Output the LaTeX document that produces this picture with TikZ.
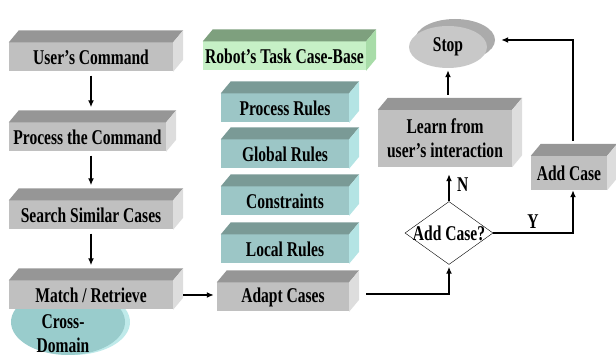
\documentclass[tikz,border=0pt]{standalone}
\usepackage{fontspec}
\setmainfont{Liberation Serif}[FakeStretch=0.74]
\usetikzlibrary{shapes.geometric,arrows.meta}

\definecolor{grayFront}{HTML}{C0C0C0}
\definecolor{grayTop}{HTML}{969696}
\definecolor{graySide}{HTML}{DDDDDD}
\definecolor{tealFront}{HTML}{9CC6C6}
\definecolor{tealTop}{HTML}{7A9A96}
\definecolor{tealSide}{HTML}{B4E4E4}
\definecolor{greenFront}{HTML}{C6F0C6}
\definecolor{greenTop}{HTML}{7EA07E}
\definecolor{greenSide}{HTML}{A8DCA8}
\definecolor{discFront}{HTML}{99CCCC}
\definecolor{discSide}{HTML}{BFEAEA}
\definecolor{stopFront}{HTML}{C8C8C8}
\definecolor{stopTop}{HTML}{ABABAB}

\tikzset{
  txt/.style={font=\bfseries\fontsize{21}{24}\selectfont},
  block/.style={rectangle, fill=#1Front, minimum height=29pt, inner sep=0pt, txt},
  arr/.style={-{Latex[length=7pt,width=6pt]}, line width=1.6pt},
}

\begin{document}
\begin{tikzpicture}[x=1pt,y=1pt]
    \useasboundingbox (0,0) rectangle (616,356);

    % Cross-Domain disc (behind Match / Retrieve)
    \node[ellipse, fill=discSide, minimum width=114pt, minimum height=66pt] (cds) at (73,34) {};
    \node[ellipse, fill=discFront, minimum width=114pt, minimum height=66pt] (cd) at (68,34) {};
    \node[txt, align=center] (cdl) at (63,22) {Cross-\\Domain};

    % Left column
    \node[block=gray, minimum width=164pt] (uc) at (91,299) {User’s Command};
    \node[block=gray, minimum width=157pt] (pc) at (87.5,219) {Process the Command};
    \node[block=gray, minimum width=164pt] (ss) at (91,141) {Search Similar Cases};
    \node[block=gray, minimum width=164pt] (mr) at (91,61) {Match / Retrieve};

    % Case base column
    \node[block=green, minimum width=163pt] (kb) at (284.5,300) {Robot’s Task Case-Base};
    \node[block=teal, minimum width=128pt] (pr) at (285,248) {Process Rules};
    \node[block=teal, minimum width=128pt] (gr) at (285,202) {Global Rules};
    \node[block=teal, minimum width=128pt] (cs) at (285,155) {Constraints};
    \node[block=teal, minimum width=128pt] (lr) at (285,107) {Local Rules};
    \node[block=gray, minimum width=132pt] (ad) at (283,59) {Adapt Cases};

    % Right part
    \node[block=gray, minimum width=134pt, minimum height=57pt, align=center] (lf) at (445,217.5) {Learn from\\user’s interaction};
    \node[block=gray, minimum width=76pt, minimum height=34pt] (adc) at (569,183) {Add Case};
    \node[diamond, draw, fill=white, minimum width=88pt, minimum height=63pt, inner sep=0pt, txt] (dc) at (449,123) {\makebox[0pt]{Add Case?}};
    \node[ellipse, fill=stopTop, minimum width=80pt, minimum height=42pt] (stb) at (455,316) {};
    \node[ellipse, fill=stopFront, minimum width=78pt, minimum height=42pt, txt] (st) at (448,309) {Stop};

    % Top and side faces
    \foreach \n/\c in {uc/gray,pc/gray,ss/gray,mr/gray,ad/gray,lf/gray,adc/gray,kb/green,pr/teal,gr/teal,cs/teal,lr/teal}{
        \fill[fill=\c Top] (\n.north west) -- ++(10,12) -- ([shift={(10,12)}]\n.north east) -- (\n.north east) -- cycle;
        \fill[fill=\c Side] (\n.south east) -- (\n.north east) -- ++(10,12) -- ([shift={(10,12)}]\n.south east) -- cycle;
    }

    % Flow
    \draw[arr, shorten <=4pt, shorten >=15pt] (uc.south) -- (uc.south |- pc.north);
    \draw[arr, shorten <=4pt, shorten >=15pt] (ss.north |- pc.south) -- (ss.north);
    \draw[arr, shorten <=4pt, shorten >=15pt] (ss.south) -- (mr.north);
    \draw[arr, shorten <=10pt, shorten >=3pt] (mr.east) -- (mr.east -| ad.west);
    \draw[arr, shorten <=17pt, shorten >=2pt] ([yshift=3pt]ad.east) -| (dc.south);
    \draw[arr] (dc.east) -| node[pos=0.25, above, txt] {Y} ([xshift=4pt]adc.south);
    \draw[arr, shorten >=7pt] (dc.north) -- node[right=4pt, txt] {N} (dc.north |- lf.south);
    \draw[arr, shorten <=15pt, shorten >=2pt] (st.south |- lf.north) -- (st.south);
    \draw[arr, shorten <=15pt, shorten >=6pt] ([xshift=4pt]adc.north) |- (stb.east);
\end{tikzpicture}
\end{document}
